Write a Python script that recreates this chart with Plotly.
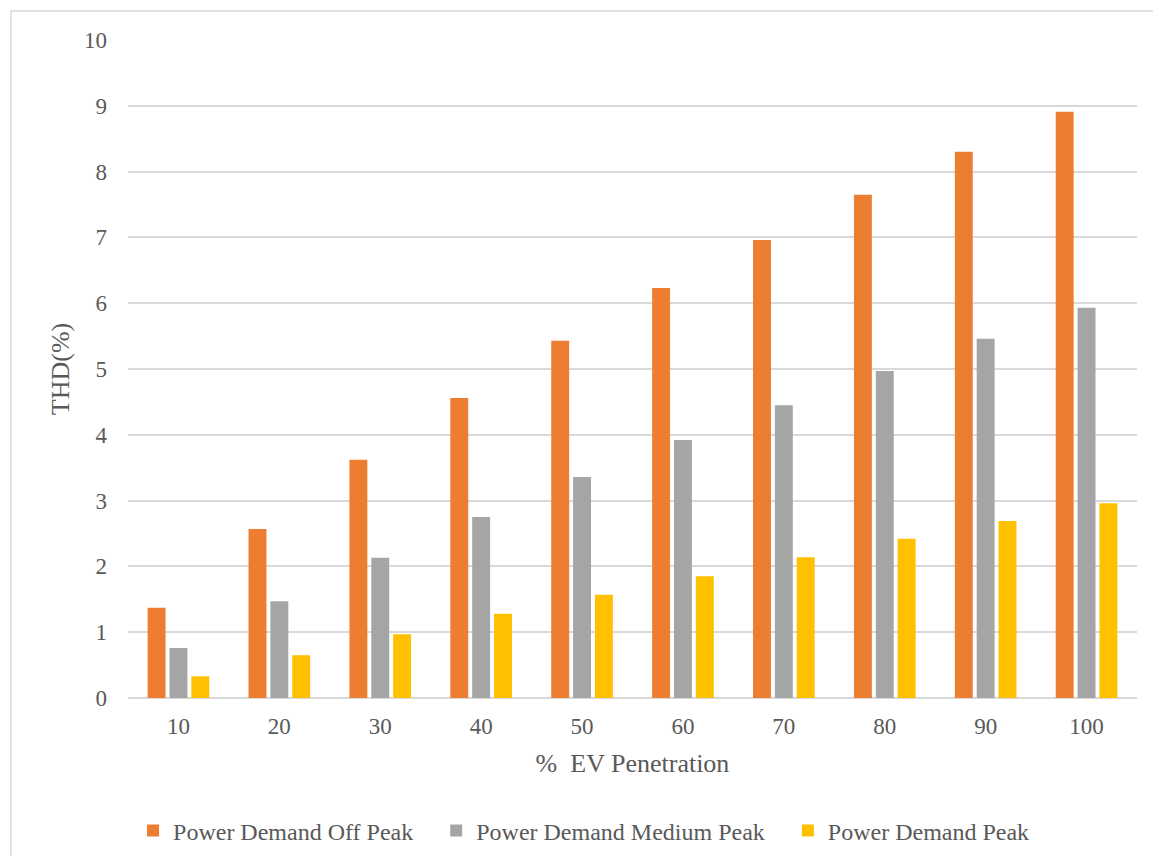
import plotly.graph_objects as go

categories = ["10", "20", "30", "40", "50", "60", "70", "80", "90", "100"]
off_peak = [1.37, 2.57, 3.62, 4.56, 5.43, 6.23, 6.96, 7.65, 8.30, 8.91]
medium_peak = [0.76, 1.47, 2.13, 2.75, 3.36, 3.92, 4.45, 4.97, 5.46, 5.93]
peak = [0.33, 0.65, 0.97, 1.28, 1.57, 1.85, 2.14, 2.42, 2.69, 2.96]

series_names = ["Power Demand Off Peak", "Power Demand Medium Peak", "Power Demand Peak"]
legend_pad = ["\u00a0\u00a0\u00a0", "\u00a0\u00a0\u00a0", ""]
colors = ["#ED7D31", "#A5A5A5", "#FFC000"]

FONT = "Liberation Serif, Times New Roman, serif"
GREY = "#595959"
fig = go.Figure()
for name, pad, vals, col in zip(series_names, legend_pad, [off_peak, medium_peak, peak], colors):
    fig.add_trace(go.Bar(x=categories, y=vals, name=name + pad,
                         marker=dict(color=col, line=dict(width=0))))

fig.update_layout(
    width=1145, height=848,
    paper_bgcolor="white", plot_bgcolor="white",
    margin=dict(l=120, r=16, t=32, b=158, autoexpand=False),
    bargap=0.35, bargroupgap=0.18,
    font=dict(family=FONT, size=22, color=GREY),
    showlegend=True,
    legend=dict(orientation="h", x=0.005, xanchor="left", y=-0.202, yanchor="middle",
                font=dict(family=FONT, size=24, color=GREY),
                itemwidth=30, tracegroupgap=0),
    xaxis=dict(type="category", showgrid=False, showline=False, ticks="",
               ticklabelstandoff=12, automargin=False,
               tickfont=dict(family=FONT, size=23, color=GREY),
               title=dict(text="%\u00a0\u00a0EV Penetration", font=dict(family=FONT, size=26, color=GREY), standoff=15)),
    yaxis=dict(range=[0, 10], dtick=1, showgrid=True, gridcolor="#D9D9D9", gridwidth=1.5,
               zeroline=True, zerolinecolor="#D9D9D9", zerolinewidth=1.5,
               showline=False, ticks="", ticklabelstandoff=20, automargin=False,
               tickfont=dict(family=FONT, size=23, color=GREY),
               title=dict(text="THD(%)", font=dict(family=FONT, size=26, color=GREY), standoff=6)),
    shapes=[dict(type="rect", xref="paper", yref="paper",
                 x0=-0.116, x1=1.04, y0=-0.27, y1=1.044,
                 line=dict(color="#D9D9D9", width=1.5), fillcolor="rgba(0,0,0,0)", layer="below")],
)

fig.write_html("out.html")
